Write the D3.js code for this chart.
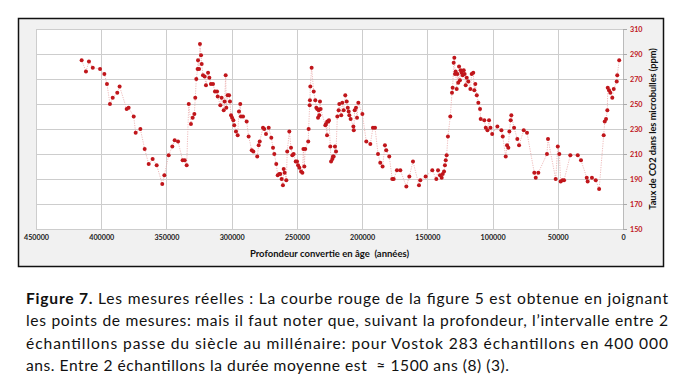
<!DOCTYPE html>
<html>
<head>
<meta charset="utf-8">
<script src="https://cdn.jsdelivr.net/npm/d3@7.9.0/dist/d3.min.js"></script>
<style>
  body { margin: 0; background: #fff; }
  svg { display: block; font-family: Lato, 'Open Sans', sans-serif; }
</style>
</head>
<body>
<svg id="chart" width="694" height="381"></svg>
<script>
// Vostok samples: age (years BP) and CO2 (ppm)
const ages = [
  415000, 411700, 409400, 406500, 400900, 397600, 395600, 393300, 391200, 387700,
  385900, 380500, 379000, 375100, 373600, 370000, 366700, 363600, 360600, 357500,
  353200, 351600, 348300, 345500, 343700, 341100, 337600, 336000, 334500, 332900,
  331200, 329900, 328600, 327900, 327100, 326100, 325800, 325000, 324300, 323500,
  323000, 322000, 320700, 319700, 318100, 317100, 315900, 314300, 312800, 311200,
  310700, 308700, 307700, 306100, 305400, 304600, 304100, 303100, 302000, 301300,
  300500, 299700, 298700, 298000, 296700, 295400, 294400, 293400, 292900, 291300,
  288500, 287000, 284600, 283400, 280400, 279300, 278500, 276000, 275000, 273700,
  271600, 269600, 268300, 267300, 265800, 264700, 263500, 262700, 261700, 260700,
  260100, 259400, 258100, 257400, 255800, 254500, 253500, 252500, 250900, 249900,
  249100, 248100, 246800, 245800, 245000, 244300, 243600, 241300, 241000, 240200,
  240000, 239700, 238700, 237100, 235900, 235100, 234400, 233800, 233300, 232800,
  232300, 231800, 228200, 227700, 226900, 226700, 225900, 225400, 224400, 223800,
  222800, 222300, 221800, 220800, 220000, 219000, 218000, 217500, 216000, 215200,
  214100, 212900, 211800, 211000, 210300, 209800, 208800, 206700, 206400, 205700,
  204700, 203900, 202900, 199800, 196800, 193700, 191700, 190100, 187800, 186100,
  184300, 182500, 181500, 179200, 176900, 175800, 173300, 170700, 166100, 163800,
  161000, 156400, 155400, 151300, 146200, 143100, 141800, 140300, 139000, 138200,
  137200, 136500, 135900, 135200, 134200, 132400, 131100, 130600, 129800, 129300,
  128800, 128300, 127500, 127000, 126300, 125700, 125000, 124400, 123700, 122900,
  122100, 121400, 120600, 119800, 118600, 117000, 116000, 114800, 114000, 113200,
  112100, 110900, 109600, 109100, 106300, 105200, 103900, 102700, 101600, 100300,
  96300, 93200, 92200, 89900, 88900, 87900, 87100, 86100, 85600, 83500,
  81000, 79700, 76100, 73600, 68000, 66900, 64900, 58300, 57500, 51600,
  50000, 48800, 47800, 46500, 45200, 40400, 34700, 32200, 27800, 27100,
  23800, 20900, 18300, 14800, 14000, 13000, 12000, 11700, 10700, 9700,
  8200, 7100, 4800, 4400, 2900
];
const co2 = [
  285, 276, 284, 279, 278, 274, 266, 250, 255, 259,
  264, 246, 247, 240, 227, 230, 214, 202, 206, 201,
  186, 193, 209, 216, 221, 220, 205, 205, 201, 250,
  234, 239, 242, 255, 270, 278, 285, 278, 298, 289,
  282, 273, 272, 265, 275, 271, 266, 266, 260, 260,
  256, 249, 255, 245, 252, 273, 247, 257, 257, 252,
  241, 239, 237, 233, 228, 225, 244, 250, 240, 240,
  236, 224, 213, 212, 208, 217, 220, 231, 230, 226,
  231, 223, 215, 210, 202, 193, 194, 194, 190, 185,
  198, 195, 189, 212, 228, 215, 209, 210, 204, 204,
  201, 199, 196, 195, 214, 200, 214, 220, 230, 249,
  253, 264, 279, 260, 253, 247, 246, 239, 245, 241,
  252, 246, 233, 234, 225, 236, 236, 237, 216, 204,
  206, 208, 208, 216, 212, 240, 245, 250, 241, 251,
  245, 257, 252, 247, 244, 241, 238, 232, 229, 245,
  247, 239, 251, 242, 220, 218, 231, 231, 210, 203,
  200, 217, 213, 208, 190, 190, 197, 197, 184, 192,
  204, 185, 189, 192, 197, 190, 197, 193, 191, 194,
  196, 201, 205, 209, 224, 240, 259, 263, 283, 287,
  274, 276, 262, 274, 267, 280, 269, 277, 275, 273,
  277, 274, 265, 271, 268, 262, 274, 275, 261, 266,
  257, 251, 246, 238, 237, 231, 229, 237, 231, 226,
  232, 229, 224, 208, 217, 215, 228, 237, 241, 231,
  222, 217, 229, 227, 195, 191, 195, 210, 222, 190,
  216, 210, 188, 189, 189, 209, 209, 205, 191, 188,
  191, 189, 182, 225, 236, 238, 245, 263, 261, 259,
  255, 262, 268, 273, 285
];

const xTicks = [450000, 400000, 350000, 300000, 250000, 200000, 150000, 100000, 50000, 0];
const yTicks = [150, 170, 190, 210, 230, 250, 270, 290, 310];

const xTitle = 'Profondeur convertie en âge  (années)';
const yTitle = 'Taux de CO2 dans les microbulles (ppm)';

const captionBold = 'Figure 7.';
const captionLines = [
  ' Les mesures réelles : La courbe rouge de la figure 5 est obtenue en joignant',
  'les points de mesures: mais il faut noter que, suivant la profondeur, l’intervalle entre 2',
  'échantillons passe du siècle au millénaire: pour Vostok 283 échantillons en 400 000',
  'ans. Entre 2 échantillons la durée moyenne est  ≈ 1500 ans (8) (3).'
];

const svg = d3.select('#chart');
const plot = { left: 36, right: 623, top: 29, bottom: 229 };
const red = '#c0161b';

// outer frame
svg.append('rect')
  .attr('x', 18.5).attr('y', 18.5)
  .attr('width', 645).attr('height', 248)
  .attr('fill', '#f1f1f1')
  .attr('stroke', '#111')
  .attr('stroke-width', 1.5);

svg.append('rect')
  .attr('x', plot.left).attr('y', plot.top)
  .attr('width', plot.right - plot.left).attr('height', plot.bottom - plot.top)
  .attr('fill', '#fff');

const x = d3.scaleLinear().domain([450000, 0]).range([plot.left, plot.right]);
const y = d3.scaleLinear().domain([150, 310]).range([plot.bottom, plot.top]);

// grid
svg.append('g')
  .attr('transform', `translate(0,${plot.bottom})`)
  .call(d3.axisBottom(x).tickValues(xTicks).tickSize(-(plot.bottom - plot.top)).tickFormat(''))
  .call((g) => g.select('.domain').remove())
  .call((g) => g.selectAll('line').attr('stroke', '#cdcdcd').attr('shape-rendering', 'crispEdges'));

svg.append('g')
  .attr('transform', `translate(${plot.left},0)`)
  .call(d3.axisLeft(y).tickValues(yTicks).tickSize(-(plot.right - plot.left)).tickFormat(''))
  .call((g) => g.select('.domain').remove())
  .call((g) => g.selectAll('line').attr('stroke', '#cdcdcd').attr('shape-rendering', 'crispEdges'));

// x labels
svg.append('g')
  .attr('transform', `translate(0,${plot.bottom})`)
  .call(d3.axisBottom(x).tickValues(xTicks).tickSize(0).tickPadding(6).tickFormat(d3.format('d')))
  .call((g) => g.select('.domain').remove())
  .call((g) => g.selectAll('text')
    .attr('fill', '#222')
    .attr('font-family', 'Lato, sans-serif')
    .attr('font-size', 7.2)
    .attr('font-weight', 'bold'));

// right axis
svg.append('g')
  .attr('transform', `translate(${plot.right},0)`)
  .call(d3.axisRight(y).tickValues(yTicks).tickSize(4).tickPadding(3))
  .call((g) => g.select('.domain').attr('stroke', '#bbb'))
  .call((g) => g.selectAll('line').attr('stroke', '#aaa'))
  .call((g) => g.selectAll('text')
    .attr('fill', red)
    .attr('font-family', 'Lato, sans-serif')
    .attr('font-size', 7.2)
    .attr('font-weight', 'bold'));

// titles
svg.append('text')
  .attr('x', (plot.left + plot.right) / 2)
  .attr('y', 256.5)
  .attr('text-anchor', 'middle')
  .attr('font-size', 9.5)
  .attr('font-weight', 'bold')
  .attr('fill', '#111')
  .style('white-space', 'pre')
  .text(xTitle);

svg.append('text')
  .attr('transform', 'translate(655.5,129) rotate(-90)')
  .attr('text-anchor', 'middle')
  .attr('font-size', 9.2)
  .attr('font-weight', 'bold')
  .attr('fill', '#111')
  .text(yTitle);

// data
const data = ages.map((a, i) => ({ age: a, value: co2[i] }))
  .sort((a, b) => b.age - a.age);

svg.append('path')
  .datum(data)
  .attr('fill', 'none')
  .attr('stroke', '#eaa9a9')
  .attr('stroke-width', 0.8)
  .attr('stroke-dasharray', '1.2,1.2')
  .attr('d', d3.line().x((d) => x(d.age)).y((d) => y(d.value)));

svg.append('g')
  .selectAll('circle')
  .data(data)
  .join('circle')
  .attr('cx', (d) => x(d.age))
  .attr('cy', (d) => y(d.value))
  .attr('r', 2)
  .attr('fill', red);

// caption
const captionX = 26;
const captionY = [303.5, 326, 348.5, 371];
const captionWidths = [642, 642, 642, 483];

captionLines.forEach((line, i) => {
  const t = svg.append('text')
    .attr('x', captionX)
    .attr('y', captionY[i])
    .attr('font-size', 15.6)
    .attr('fill', '#111')
    .attr('textLength', captionWidths[i])
    .attr('lengthAdjust', 'spacing')
    .style('white-space', 'pre');
  if (i === 0) {
    t.append('tspan').attr('font-weight', 'bold').text(captionBold);
  }
  t.append('tspan').text(line);
});
</script>
</body>
</html>
